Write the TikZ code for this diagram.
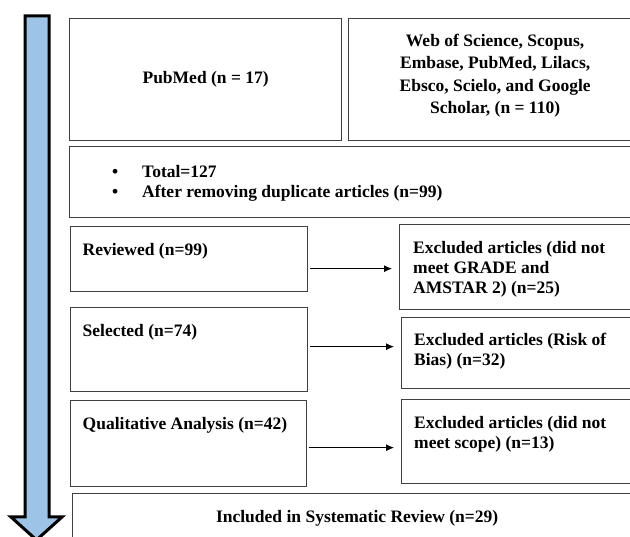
\documentclass[tikz,border=0pt]{standalone}
\usepackage{fontspec}
\setmainfont{Liberation Serif}
\usepackage{tikz}
\usetikzlibrary{arrows.meta,calc}
\definecolor{arrowblue}{RGB}{157,195,230}
\definecolor{boxgray}{RGB}{64,64,64}
\tikzset{
  box/.style={draw=boxgray, line width=1.3pt, inner sep=0pt, anchor=north west,
    font=\bfseries\fontsize{17.5}{22.3}\selectfont, align=center},
  boxtext/.style={inner sep=0pt, anchor=north west, align=left,
    font=\bfseries\fontsize{17.5}{20}\selectfont},
  flow/.style={line width=0.9pt, -{Latex[length=8pt,width=7pt]},
    shorten <=2pt, shorten >=7pt}
}

\begin{document}
\begin{tikzpicture}[x=1pt, y=-1pt]
    \clip (0,0) rectangle (630,537);
    %%Mũi tên lớn
    \draw[line width=3pt, fill=arrowblue, line join=miter]
    (25,16) -- (49,16) -- (49,517) -- (62,517) -- (36.5,540)
    -- (11,517) -- (25,517) -- cycle;
    %%Nguồn dữ liệu
    \node[box, minimum width=272pt, minimum height=122pt] (pubmed) at (69,18)
    {PubMed (n = 17)};
    \node[box, minimum width=293pt, minimum height=122pt] (wos) at (348,18) {};
    \node[boxtext, anchor=north, align=center, font=\bfseries\fontsize{17.5}{22.3}\selectfont]
    (wostxt) at ($(wos.north)+(0,16)$)
    {Web of Science, Scopus,\\Embase, PubMed, Lilacs,\\Ebsco, Scielo, and Google\\Scholar, (n = 110)};
    %%Tổng
    \node[box, minimum width=572pt, minimum height=71pt] (total) at (69,146) {};
    \node[boxtext] (totaltxt) at ($(total.north west)+(43,19)$)
    {\makebox[30pt][l]{\textbullet}Total=127\\
     \makebox[30pt][l]{\textbullet}After removing duplicate articles (n=99)};
    %%Các bước
    \node[box, minimum width=237.5pt, minimum height=65pt] (rev) at (69.5,226) {};
    \node[box, minimum width=237.5pt, minimum height=84pt] (sel) at (69.5,307) {};
    \node[box, minimum width=236.5pt, minimum height=86pt] (qual) at (69.5,400) {};
    \node[boxtext] (revtxt) at ($(rev.north west)+(13,17)$) {Reviewed (n=99)};
    \node[boxtext] (seltxt) at ($(sel.north west)+(13,17)$) {Selected (n=74)};
    \node[boxtext] (qualtxt) at ($(qual.north west)+(13,17)$) {Qualitative Analysis (n=42)};
    %%Loại bỏ
    \node[box, minimum width=242pt, minimum height=85pt] (exc1) at (399,224) {};
    \node[box, minimum width=240pt, minimum height=71pt] (exc2) at (401,317) {};
    \node[box, minimum width=240pt, minimum height=84pt] (exc3) at (401,399) {};
    \node[boxtext] (exc1txt) at ($(exc1.north west)+(14,17)$)
    {Excluded articles (did not\\meet GRADE and\\AMSTAR 2) (n=25)};
    \node[boxtext] (exc2txt) at ($(exc2.north west)+(13,16)$)
    {Excluded articles (Risk of\\Bias) (n=32)};
    \node[boxtext] (exc3txt) at ($(exc3.north west)+(13,17)$)
    {Excluded articles (did not\\meet scope) (n=13)};
    \draw[flow] ([yshift=-9.5pt]rev.east) -- ([yshift=-9.5pt]rev.east -| exc1.west);
    \draw[flow] ([yshift=3pt]sel.east) -- ([yshift=3pt]sel.east -| exc2.west);
    \draw[flow] ([yshift=-4pt]qual.east) -- ([yshift=-4pt]qual.east -| exc3.west);
    %%Kết quả
    \node[box, minimum width=569pt, minimum height=60pt] (incl) at (72,493) {};
    \node[boxtext, anchor=north] (incltxt) at ($(incl.north)+(0,17)$)
    {Included in Systematic Review (n=29)};
\end{tikzpicture}
\end{document}
